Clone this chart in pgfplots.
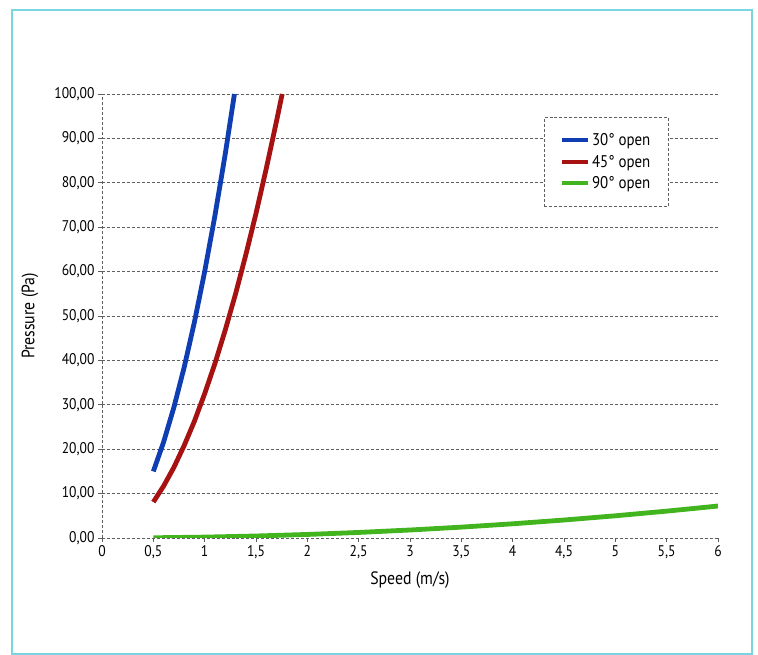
\documentclass[border=0pt]{standalone}
\usepackage{fontspec}
\setmainfont{PT Sans}[FakeStretch=0.88]
\usepackage{pgfplots}
\pgfplotsset{compat=1.18}
\definecolor{cblue}{RGB}{14,62,178}
\definecolor{cred}{RGB}{166,18,18}
\definecolor{cgreen}{RGB}{66,180,30}
\definecolor{cframe}{RGB}{120,214,222}
\definecolor{cgrid}{RGB}{95,95,95}
\begin{document}
\begin{tikzpicture}
\useasboundingbox (-102bp,-117bp) rectangle (656bp,538bp);
\clip (-102bp,-117bp) rectangle (656bp,538bp);
\fill[white] (-102bp,-117bp) rectangle (656bp,538bp);
\draw[cframe, line width=2.5bp] (-90bp,-116bp) rectangle (650bp,528bp);
\begin{axis}[
  at={(0,0)}, anchor=south west,
  scale only axis, width=616bp, height=444bp,
  xmin=0, xmax=6, ymin=0, ymax=100,
  axis x line*=bottom, axis y line*=left,
  axis line style={cgrid, densely dashed, line width=0.7bp, -},
  xtick={0,0.5,1,1.5,2,2.5,3,3.5,4,4.5,5,5.5,6},
  ytick={0,10,...,100},
  ymajorgrids,
  grid style={cgrid, densely dashed, line width=0.7bp},
  major tick length=4bp,
  tick style={cgrid, line width=0.7bp},
  tick align=outside,
  /pgf/number format/assume math mode=true,
  /pgf/number format/use comma,
  yticklabel style={/pgf/number format/.cd, fixed, fixed zerofill, precision=2, use comma},
  xticklabel style={/pgf/number format/.cd, fixed, precision=1, use comma},
  ticklabel style={font=\fontsize{15.5}{18}\selectfont, text=black},
  xlabel={Speed (m/s)}, ylabel={Pressure (Pa)},
  xlabel style={at={(axis description cs:0.5,-0.0946)}, anchor=center, font=\fontsize{18}{21}\selectfont, text=black},
  ylabel style={at={(axis description cs:-0.117,0.5)}, anchor=center, font=\fontsize{18}{21}\selectfont, text=black},
  legend style={at={(axis description cs:0.717,0.948)}, anchor=north west,
    draw=cgrid, densely dashed, line width=0.7bp, font=\fontsize{17}{20}\selectfont,
    inner xsep=16bp, inner ysep=14bp, row sep=4bp, cells={anchor=west}},
  legend image code/.code={\draw[solid, line width=4bp] (0bp,0bp) -- (26bp,0bp);},
  legend cell align=left,
]
\addplot[cblue, line width=4.8bp, solid] coordinates {
 (0.5,15) (0.6,21.6) (0.7,29.4) (0.8,38.4) (0.9,48.6) (1.0,60) (1.1,72.6) (1.2,86.4) (1.29,100)};
\addlegendentry{30° open}
\addplot[cred, line width=4.8bp, solid] coordinates {
 (0.5,8.1) (0.6,11.7) (0.7,15.9) (0.8,20.8) (0.9,26.3) (1.0,32.5) (1.1,39.3) (1.2,46.8) (1.3,54.9) (1.4,63.7) (1.5,73.1) (1.6,83.2) (1.7,93.9) (1.755,100)};
\addlegendentry{45° open}
\addplot[cgreen, line width=4.8bp, solid] coordinates {
 (0.5,0.05) (1,0.2) (1.5,0.45) (2,0.8) (2.5,1.25) (3,1.8) (3.5,2.45) (4,3.2) (4.5,4.05) (5,5.0) (5.5,6.05) (6,7.2)};
\addlegendentry{90° open}
\end{axis}
\end{tikzpicture}
\end{document}
